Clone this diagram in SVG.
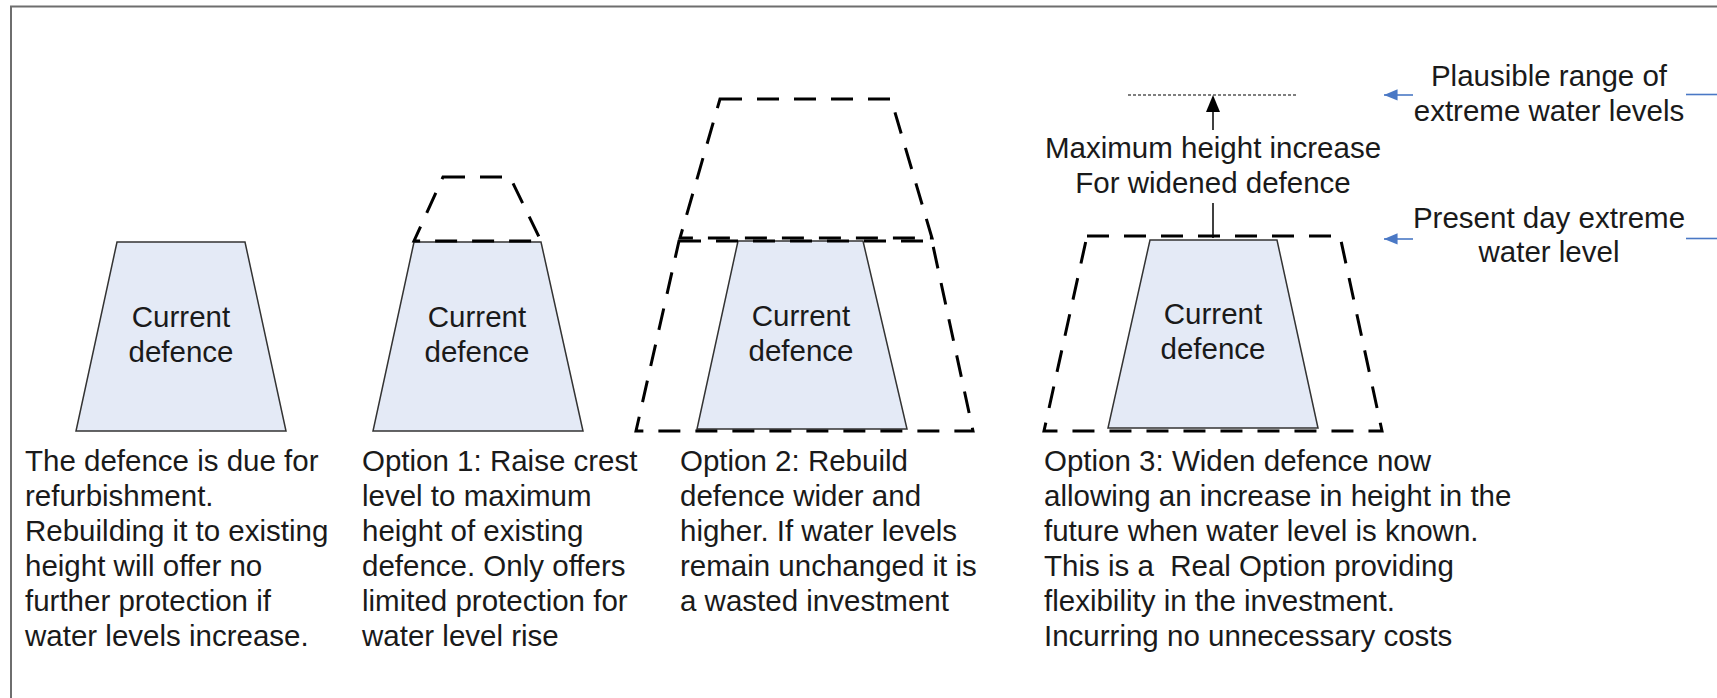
<svg xmlns="http://www.w3.org/2000/svg" width="1717" height="698" viewBox="0 0 1717 698">
<defs>
<style>
text{font-family:"Liberation Sans",Arial,sans-serif;font-size:29.5px;fill:#1a1a1a}
.c{text-anchor:middle}
.solid{fill:#e4eaf6;stroke:#333;stroke-width:1.5;stroke-linejoin:miter}
.dash{fill:none;stroke:#000;stroke-width:3;stroke-dasharray:22 15}
.blue{stroke:#4a78c5;stroke-width:1.6;fill:none}
</style>
<marker id="ahBlue" viewBox="0 0 10 10" refX="10" refY="5" markerWidth="10" markerHeight="8" markerUnits="userSpaceOnUse" orient="auto" overflow="visible">
<path d="M0,0 L10,5 L0,10 Z" fill="#4a78c5" transform="scale(1.7,1.4) translate(-4.1,-1.4)"/>
</marker>
</defs>
<rect width="1717" height="698" fill="#fff"/>
<g id="frame" stroke="#6e6e6e" stroke-width="2" fill="none">
<path d="M11,698 V6.5 H1717"/>
</g>

<g id="current">
<polygon class="solid" points="117,242 245,242 286,431 76,431"/>
<text class="c" x="181" y="327">Current</text>
<text class="c" x="181" y="362">defence</text>
</g>

<g id="option1">
<polygon class="solid" points="414,242 541,242 583,431 373,431"/>
<polygon class="dash" points="443,177 510,177 541,241 414,241"/>
<text class="c" x="477" y="327">Current</text>
<text class="c" x="477" y="362">defence</text>
</g>

<g id="option2">
<polygon class="solid" points="738,241 863,241 907,429 697,429"/>
<polygon class="dash" points="720,99 891,99 932,238 680,238"/>
<polygon class="dash" points="679,241 932,241 973,431 636,431"/>
<text class="c" x="801" y="326">Current</text>
<text class="c" x="801" y="361">defence</text>
</g>

<g id="option3">
<polygon class="solid" points="1150,240 1277,240 1318,428 1108,428"/>
<polygon class="dash" points="1087,236 1340,236 1382,431 1044,431"/>
<text class="c" x="1213" y="324">Current</text>
<text class="c" x="1213" y="359">defence</text>
</g>

<g id="connectors">
<line x1="1128" y1="95" x2="1298" y2="95" stroke="#000" stroke-width="1.2" stroke-dasharray="3 2"/>
<line x1="1213" y1="130" x2="1213" y2="110" stroke="#000" stroke-width="1.5"/>
<polygon points="1213,95 1220,112 1206,112" fill="#000"/>
<line x1="1213" y1="203" x2="1213" y2="238" stroke="#000" stroke-width="1.5"/>
<line class="blue" x1="1413" y1="95" x2="1384" y2="95" marker-end="url(#ahBlue)"/>
<line class="blue" x1="1413" y1="239" x2="1384" y2="239" marker-end="url(#ahBlue)"/>
<line class="blue" x1="1686" y1="94.5" x2="1717" y2="94.5"/>
<line class="blue" x1="1686" y1="238.5" x2="1717" y2="238.5"/>
</g>

<g id="label-max">
<text class="c" x="1213" y="158">Maximum height increase</text>
<text class="c" x="1213" y="193">For widened defence</text>
</g>

<g id="label-plausible">
<text class="c" x="1549" y="86">Plausible range of</text>
<text class="c" x="1549" y="121">extreme water levels</text>
</g>

<g id="label-present">
<text class="c" x="1549" y="228">Present day extreme</text>
<text class="c" x="1549" y="262">water level</text>
</g>

<g id="text-current">
<text x="25" y="471">The defence is due for</text>
<text x="25" y="506">refurbishment.</text>
<text x="25" y="541">Rebuilding it to existing</text>
<text x="25" y="576">height will offer no</text>
<text x="25" y="611">further protection if</text>
<text x="25" y="646">water levels increase.</text>
</g>

<g id="text-option1">
<text x="362" y="471">Option 1: Raise crest</text>
<text x="362" y="506">level to maximum</text>
<text x="362" y="541">height of existing</text>
<text x="362" y="576">defence. Only offers</text>
<text x="362" y="611">limited protection for</text>
<text x="362" y="646">water level rise</text>
</g>

<g id="text-option2">
<text x="680" y="471">Option 2: Rebuild</text>
<text x="680" y="506">defence wider and</text>
<text x="680" y="541">higher. If water levels</text>
<text x="680" y="576">remain unchanged it is</text>
<text x="680" y="611">a wasted investment</text>
</g>

<g id="text-option3">
<text x="1044" y="471">Option 3: Widen defence now</text>
<text x="1044" y="506">allowing an increase in height in the</text>
<text x="1044" y="541">future when water level is known.</text>
<text x="1044" y="576" xml:space="preserve">This is a  Real Option providing</text>
<text x="1044" y="611">flexibility in the investment.</text>
<text x="1044" y="646">Incurring no unnecessary costs</text>
</g>
</svg>
